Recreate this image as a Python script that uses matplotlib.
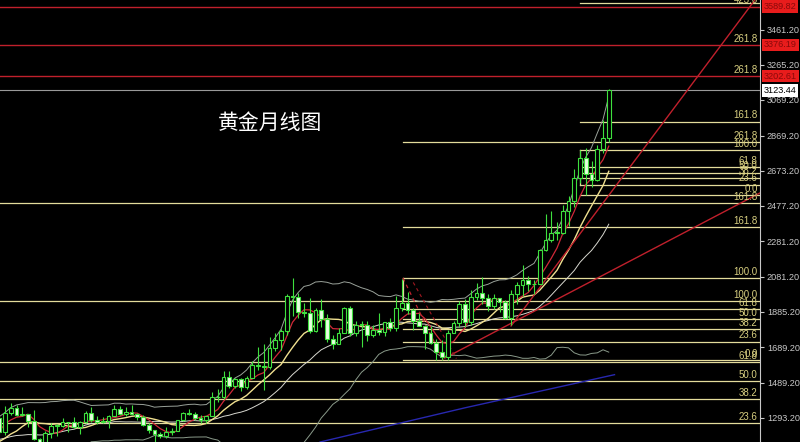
import numpy as np
import pandas as pd
import matplotlib
matplotlib.use('Agg')
import matplotlib.pyplot as plt
import matplotlib.transforms as mtransforms

plt.rcParams['font.family'] = ['Noto Sans CJK SC', 'DejaVu Sans']

# monthly gold candles, Oct 2014 .. Mar 2025 (index 0 = Jun 2016, first one on screen)
ohlc = [
    (1211, 1255, 1161, 1171), (1171, 1208, 1131, 1182), (1182, 1238, 1170, 1184),
    # 2015
    (1184, 1307, 1167, 1279), (1279, 1287, 1191, 1213), (1213, 1219, 1142, 1183), (1183, 1224, 1170, 1183),
    (1183, 1232, 1170, 1190), (1190, 1205, 1162, 1172), (1172, 1174, 1077, 1095), (1095, 1170, 1080, 1132),
    (1132, 1156, 1098, 1115), (1115, 1191, 1107, 1142), (1142, 1143, 1052, 1065), (1065, 1088, 1046, 1061),
    # 2016
    (1061, 1123, 1062, 1118), (1118, 1263, 1111, 1238), (1238, 1283, 1208, 1232), (1232, 1304, 1207, 1294),
    (1294, 1303, 1199, 1215), (1215, 1362, 1200, 1320), (1320, 1375, 1310, 1350), (1350, 1367, 1302, 1309),
    (1309, 1352, 1306, 1316), (1316, 1318, 1241, 1277), (1277, 1338, 1171, 1173), (1173, 1182, 1122, 1151),
    # 2017
    (1151, 1220, 1146, 1211), (1211, 1264, 1180, 1249), (1249, 1261, 1194, 1249), (1249, 1295, 1240, 1268),
    (1268, 1270, 1214, 1268), (1268, 1296, 1236, 1242), (1242, 1274, 1205, 1269), (1269, 1331, 1267, 1322),
    (1322, 1357, 1271, 1280), (1280, 1306, 1260, 1271), (1271, 1299, 1264, 1275), (1275, 1309, 1236, 1303),
    # 2018
    (1303, 1366, 1302, 1345), (1345, 1362, 1307, 1318), (1318, 1356, 1303, 1325), (1325, 1365, 1310, 1315),
    (1315, 1320, 1281, 1299), (1299, 1309, 1246, 1253), (1253, 1266, 1211, 1224), (1224, 1228, 1160, 1201),
    (1201, 1214, 1180, 1192), (1192, 1243, 1182, 1215), (1215, 1237, 1196, 1222), (1222, 1284, 1221, 1282),
    # 2019
    (1282, 1326, 1276, 1321), (1321, 1346, 1310, 1313), (1313, 1324, 1281, 1292), (1292, 1310, 1266, 1283),
    (1283, 1306, 1266, 1305), (1305, 1439, 1302, 1409), (1409, 1453, 1382, 1413), (1413, 1555, 1400, 1520),
    (1520, 1557, 1459, 1472), (1472, 1517, 1459, 1513), (1513, 1516, 1445, 1464), (1464, 1525, 1454, 1517),
    # 2020
    (1517, 1611, 1517, 1589), (1589, 1689, 1562, 1585), (1585, 1704, 1451, 1577), (1577, 1748, 1568, 1686),
    (1686, 1765, 1670, 1730), (1730, 1789, 1671, 1781), (1781, 1984, 1757, 1975), (1975, 2075, 1863, 1967),
    (1967, 1992, 1849, 1886), (1886, 1933, 1859, 1879), (1879, 1965, 1765, 1777), (1777, 1906, 1775, 1895),
    # 2021
    (1895, 1959, 1802, 1847), (1847, 1875, 1717, 1734), (1734, 1755, 1677, 1708), (1708, 1798, 1705, 1769),
    (1769, 1913, 1766, 1907), (1907, 1916, 1750, 1770), (1770, 1834, 1750, 1814), (1814, 1834, 1688, 1814),
    (1814, 1834, 1721, 1757), (1757, 1814, 1746, 1783), (1783, 1877, 1758, 1774), (1774, 1831, 1753, 1829),
    # 2022
    (1829, 1853, 1780, 1797), (1797, 1974, 1781, 1909), (1909, 2070, 1890, 1937), (1937, 1998, 1872, 1897),
    (1897, 1910, 1787, 1837), (1837, 1879, 1805, 1807), (1807, 1814, 1681, 1766), (1766, 1808, 1709, 1711),
    (1711, 1735, 1615, 1661), (1661, 1730, 1617, 1633), (1633, 1786, 1617, 1768), (1768, 1833, 1765, 1824),
    # 2023
    (1824, 1949, 1804, 1928), (1928, 1959, 1804, 1827), (1827, 2009, 1810, 1969), (1969, 2048, 1950, 1990),
    (1990, 2079, 1932, 1962), (1962, 1983, 1893, 1919), (1919, 1987, 1903, 1965), (1965, 1966, 1884, 1940),
    (1940, 1953, 1846, 1849), (1849, 2009, 1810, 1983), (1983, 2052, 1931, 2036), (2036, 2146, 1973, 2063),
    # 2024
    (2063, 2088, 2002, 2039), (2039, 2065, 1984, 2044), (2044, 2236, 2039, 2230), (2230, 2431, 2228, 2286),
    (2286, 2450, 2277, 2327), (2327, 2388, 2286, 2326), (2326, 2483, 2318, 2447), (2447, 2531, 2364, 2503),
    (2503, 2685, 2472, 2634), (2634, 2790, 2604, 2744), (2744, 2801, 2536, 2653), (2653, 2726, 2583, 2624),
    # 2025
    (2624, 2817, 2614, 2798), (2798, 2956, 2772, 2858), (2858, 3128, 2833, 3123.44),
]
first_on_screen = 20

# right axis tick labels
tick_values = [3461.20, 3265.20, 3069.20, 2869.20, 2673.20, 2477.20, 2281.20,
               2081.20, 1885.20, 1689.20, 1489.20, 1293.20]

# long fib set, drawn across the whole chart
fib_full_prices = [2494, 1946, 1606, 1500, 1399, 1265]
fib_full_labels = ['161.8', '100.0', '61.8', '50.0', '38.2', '23.6']

# fib from the 2022 high / low, starting at Mar 2022
fib_mid_start = 69.2
fib_mid_prices = [2834, 2360, 2075, 1902, 1846, 1790, 1718, 1617]
fib_mid_labels = ['261.8', '161.8', '100.0', '61.8', '50.0', '38.2', '23.6', '0.0']

# fib from the Oct / Nov 2024 swing
fib_top_start = 100
fib_top_prices = [3612, 2947, 2790, 2693, 2664, 2634, 2597, 2537]
fib_top_labels = ['423.6', '161.8', '100.0', '61.8', '50.0', '38.2', '23.6', '0.0']

# red target lines
red_prices = [3589.82, 3376.19, 3202.61]
red_labels = ['423.6', '261.8', '261.8']
last_price = 3123.44

# red trend lines (x index, price)
trend_a = ([76.5, 131.3], [1628, 2550])
trend_b = ([88.0, 130.4], [1807, 3627])
trend_dash = ([69.2, 76.2], [2075, 1617])
trend_dash2 = ([71.0, 78.5], [2050, 1625])

# long blue average
blue_x = [54.8, 80, 106]
blue_y = [1159, 1350, 1535]

df = pd.DataFrame(ohlc, columns=['Open', 'High', 'Low', 'Close'])
df['x'] = np.arange(len(df)) - first_on_screen
df['MA5'] = df['Close'].rolling(5).mean()
df['MA10'] = df['Close'].rolling(10).mean()
df['MA20'] = df['Close'].rolling(20).mean()
df['STD'] = df['Close'].rolling(20).std()
df['Upper'] = df['MA20'] + 2 * df['STD']
df['Lower'] = df['MA20'] - 2 * df['STD']

fig = plt.figure(figsize=(8, 4.42), dpi=100)
fig.patch.set_facecolor('black')
ax = fig.add_axes([0, 0, 0.95, 1])
ax.set_facecolor('black')
ax.set_xlim(-0.87, 131.3)
ax.set_ylim(1159, 3627.5)

yellow = '#e4dc9c'
label_col = '#d8cf80'
small = dict(family='Liberation Sans', fontsize=7)
lab_tr = mtransforms.blended_transform_factory(ax.transAxes, ax.transData)

# fib lines
for p, lab in zip(fib_full_prices, fib_full_labels):
    ax.axhline(p, color=yellow, lw=0.9, zorder=1)
    ax.text(0.997, p + 8, lab, transform=lab_tr, ha='right', va='bottom', color=label_col, **small)
for p, lab in zip(fib_mid_prices, fib_mid_labels):
    ax.plot([fib_mid_start, 131.3], [p, p], color=yellow, lw=0.9, zorder=1)
    ax.text(0.997, p + 8, lab, transform=lab_tr, ha='right', va='bottom', color=label_col, **small)
for p, lab in zip(fib_top_prices, fib_top_labels):
    ax.plot([fib_top_start, 131.3], [p, p], color=yellow, lw=0.9, zorder=1)
    ax.text(0.997, p + 8, lab, transform=lab_tr, ha='right', va='bottom', color=label_col, **small)
ax.plot([fib_mid_start, fib_mid_start], [fib_mid_prices[2], fib_full_prices[1]], color=yellow, lw=0.9)
ax.plot([fib_top_start, fib_top_start], [fib_top_prices[2], fib_top_prices[6]], color=yellow, lw=0.9)

for p, lab in zip(red_prices, red_labels):
    ax.axhline(p, color='#c0202c', lw=1.0, zorder=1)
    ax.text(0.997, p + 8, lab, transform=lab_tr, ha='right', va='bottom', color=label_col, **small)
    ax.text(1.005, p, '%.2f' % p, transform=lab_tr, ha='left', va='center', color='#8a0a0a',
            family='Liberation Sans', fontsize=6.6, clip_on=False,
            bbox=dict(boxstyle='square,pad=0.2', fc='#e81c1c', ec='none'))
ax.axhline(last_price, color='#9a9a9a', lw=0.8, zorder=1)
ax.text(1.005, last_price, '%.2f' % last_price, transform=lab_tr, ha='left', va='center', color='black',
        family='Liberation Sans', fontsize=6.6, clip_on=False,
        bbox=dict(boxstyle='square,pad=0.2', fc='white', ec='none'))

# indicators
ax.plot(df['x'], df['Upper'], color='#9aa29a', lw=0.7, zorder=2)
ax.plot(df['x'], df['Lower'], color='#8a9a8a', lw=0.7, zorder=2)
ax.plot(df['x'], df['MA20'], color='#d8d8d0', lw=0.7, zorder=2)
ax.plot(df['x'], df['MA10'], color='#f0e090', lw=1.0, zorder=2)
ax.plot(df['x'], df['MA5'], color='#d02838', lw=0.9, zorder=2)
ax.plot(blue_x, blue_y, color='#2828b0', lw=1.0, zorder=2)

# trend lines
ax.plot(*trend_a, color='#c0202c', lw=1.0, zorder=2)
ax.plot(*trend_b, color='#c0202c', lw=1.0, zorder=2)
ax.plot(*trend_dash, color='#c0202c', lw=0.9, ls=(0, (3, 3)), zorder=2)
ax.plot(*trend_dash2, color='#a01820', lw=0.8, ls=(0, (3, 3)), zorder=2)

# candles
green = '#3ee03e'
up = df['Close'] >= df['Open']
ax.vlines(df['x'], df['Low'], df['High'], color=green, lw=0.8, zorder=3)
body_lo = df[['Open', 'Close']].min(axis=1)
body_h = (df['Close'] - df['Open']).abs().clip(lower=4)
ax.bar(df['x'][up], body_h[up], bottom=body_lo[up], width=0.66, facecolor='black', edgecolor=green, lw=0.8, zorder=4)
ax.bar(df['x'][~up], body_h[~up], bottom=body_lo[~up], width=0.66, facecolor='#e8ffe0', edgecolor=green, lw=0.8, zorder=4)

# axis
ax.yaxis.tick_right()
ax.set_yticks(tick_values)
ax.set_yticklabels(['%.2f' % v for v in tick_values])
ax.tick_params(axis='y', colors='#c8c8c8', labelsize=6.6, length=3, width=0.8, pad=2)
ax.set_xticks([])
for s in ['top', 'left', 'bottom']:
    ax.spines[s].set_visible(False)
ax.spines['right'].set_color('#c8c8c8')
ax.spines['right'].set_linewidth(0.8)
for t in ax.get_yticklabels():
    t.set_family('Liberation Sans')

fig.text(218 / 800, 1 - 123 / 442, '黄金月线图', color='white', fontsize=15, ha='left', va='center')

fig.savefig('out.png', dpi=100, facecolor='black')
